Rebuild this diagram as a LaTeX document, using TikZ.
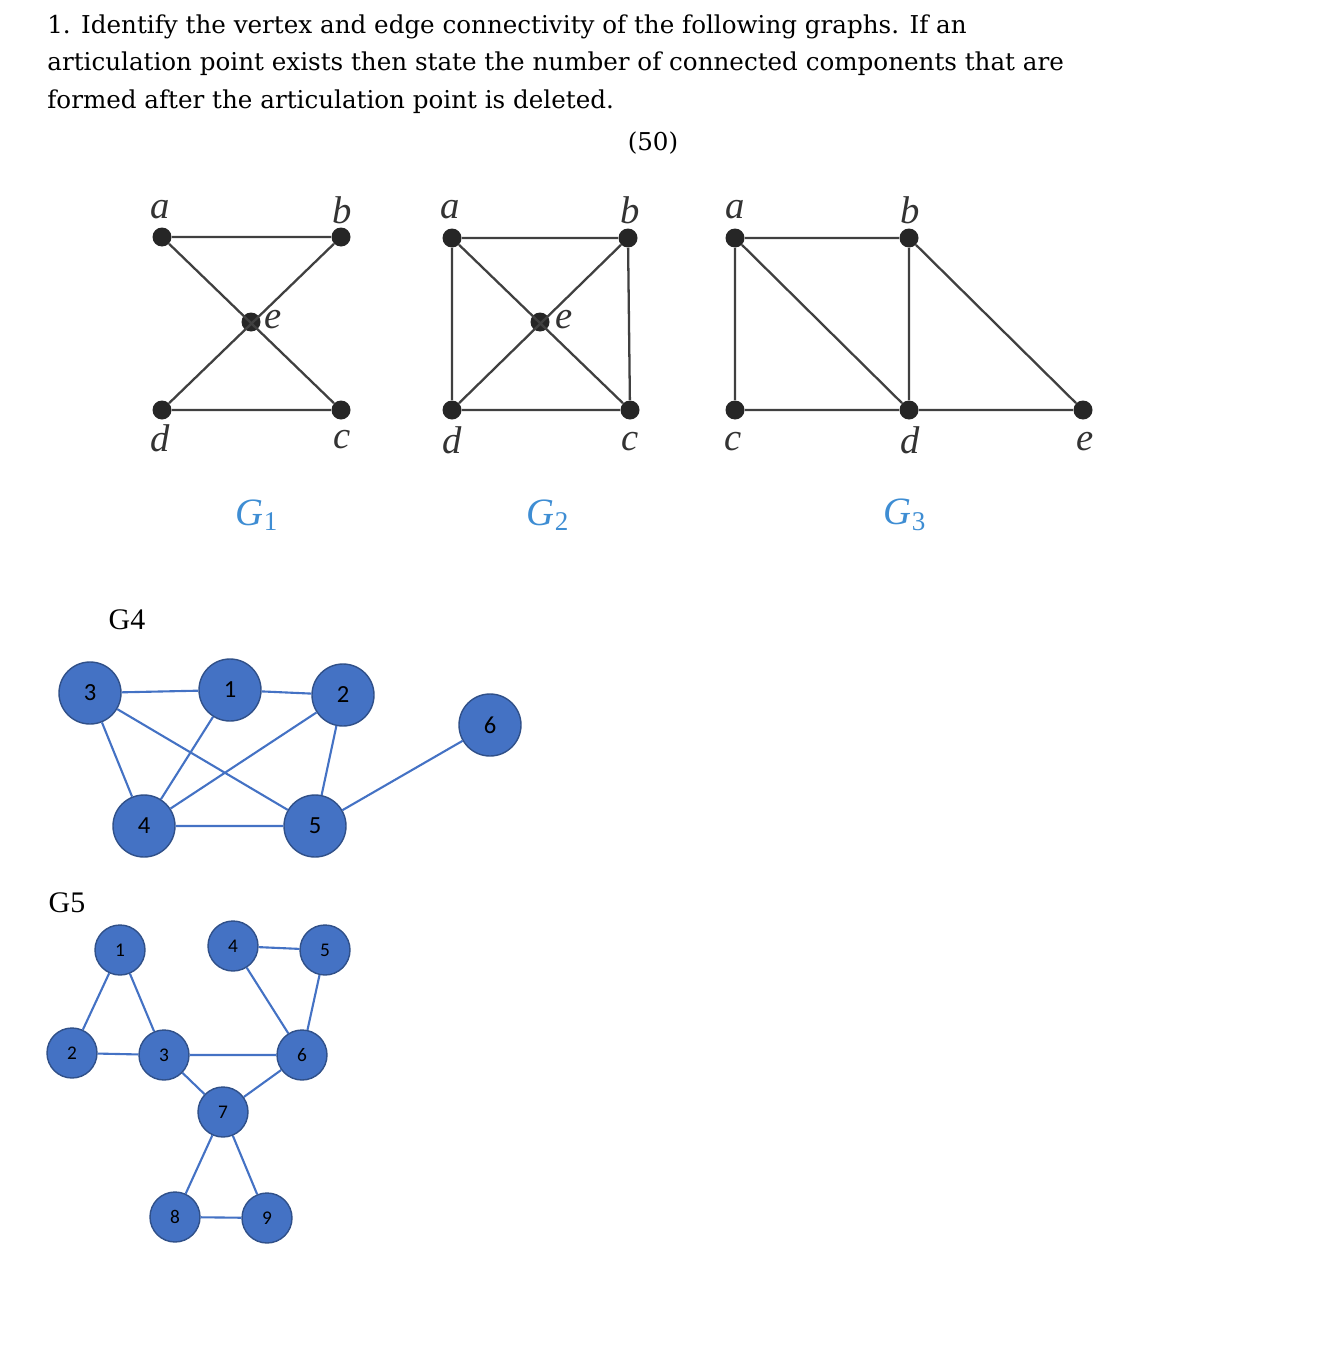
\documentclass[tikz,border=0pt]{standalone}
\usepackage{fontspec}
\setmainfont{DejaVu Serif}
\newfontfamily\libser{Liberation Serif}
\newfontfamily\carl{Carlito}
\begin{document}
\begin{tikzpicture}[x=0.02cm,y=-0.02cm,
 dot/.style={circle,fill=black!85,inner sep=0,minimum size=19*0.02cm},
 ge/.style={draw=black!75,line width=1.3pt},
 lab/.style={font=\libser\itshape\fontsize{22}{22}\selectfont,text=black!80},
 glab/.style={font=\libser\itshape\fontsize{22}{22}\selectfont,text=cyan!60!blue!80},
 bn/.style={circle,inner sep=0,line width=0.8pt},
 big/.style={bn,minimum size=62*0.02cm,font=\carl\fontsize{14}{14}\selectfont},
 sm/.style={bn,minimum size=50*0.02cm,font=\carl\fontsize{11}{11}\selectfont},
 be/.style={draw=bluee,line width=1.2pt}]
\definecolor{bluee}{HTML}{4472C4}
\tikzset{bn/.append style={fill=bluee,draw=bluee!70!black}}
\useasboundingbox (0,0) rectangle (1332,1345);
\node[anchor=north west,align=left,inner sep=0,font=\fontsize{14}{21.5}\selectfont] (hdr) at (47,14) {1. Identify the vertex and edge connectivity of the following graphs. If an\\articulation point exists then state the number of connected components that are\\formed after the articulation point is deleted.};
\node[font=\fontsize{14}{14}\selectfont] (pts) at (653,143) {(50)};
% G1
\node[dot] (a1) at (162,237) {}; \node[dot] (b1) at (341,237) {};
\node[dot] (e1) at (251,322) {}; \node[dot] (d1) at (162,410) {}; \node[dot] (c1) at (341,410) {};
\draw[ge] (a1)--(b1) (a1)--(c1) (b1)--(d1) (d1)--(c1);
\node[lab] (la1) at (160,210) {a}; \node[lab] (lb1) at (342,210) {b};
\node[lab] (le1) at (273,320) {e}; \node[lab] (ld1) at (160,438) {d}; \node[lab] (lc1) at (342,440) {c};
\node[glab] (g1) at (257,515) {G\textsubscript{\upshape 1}};
% G2
\node[dot] (a2) at (452,238) {}; \node[dot] (b2) at (628,238) {};
\node[dot] (e2) at (540,322) {}; \node[dot] (d2) at (452,410) {}; \node[dot] (c2) at (630,410) {};
\draw[ge] (a2)--(b2)--(c2)--(d2)--(a2) (a2)--(c2) (b2)--(d2);
\node[lab] (la2) at (450,210) {a}; \node[lab] (lb2) at (630,210) {b};
\node[lab] (le2) at (564,320) {e}; \node[lab] (ld2) at (452,440) {d}; \node[lab] (lc2) at (630,442) {c};
\node[glab] (g2) at (548,515) {G\textsubscript{\upshape 2}};
% G3
\node[dot] (a3) at (735,238) {}; \node[dot] (b3) at (909,238) {};
\node[dot] (c3) at (735,410) {}; \node[dot] (d3) at (909,410) {}; \node[dot] (e3) at (1083,410) {};
\draw[ge] (a3)--(b3) (a3)--(c3) (c3)--(d3) (a3)--(d3) (b3)--(d3) (b3)--(e3) (d3)--(e3);
\node[lab] (la3) at (735,210) {a}; \node[lab] (lb3) at (910,210) {b};
\node[lab] (lc3) at (733,442) {c}; \node[lab] (ld3) at (910,440) {d}; \node[lab] (le3) at (1085,442) {e};
\node[glab] (g3) at (905,515) {G\textsubscript{\upshape 3}};
% G4
\node[font=\libser\fontsize{17}{17}\selectfont] (g4) at (127,620) {G4};
\node[big] (n3) at (90,693) {3}; \node[big] (n1) at (230,690) {1};
\node[big] (n2) at (343,695) {2}; \node[big] (n6) at (490,725) {6};
\node[big] (n4) at (144,826) {4}; \node[big] (n5) at (315,826) {5};
\draw[be] (n3)--(n1) (n1)--(n2) (n3)--(n4) (n3)--(n5) (n1)--(n4) (n2)--(n4) (n2)--(n5) (n4)--(n5) (n5)--(n6);
% G5
\node[font=\libser\fontsize{17}{17}\selectfont] (g5) at (67,903) {G5};
\node[sm] (m1) at (120,950) {1}; \node[sm] (m4) at (233,946) {4}; \node[sm] (m5) at (325,950) {5};
\node[sm] (m2) at (72,1053) {2}; \node[sm] (m3) at (164,1055) {3}; \node[sm] (m6) at (302,1055) {6};
\node[sm] (m7) at (223,1112) {7}; \node[sm] (m8) at (175,1217) {8}; \node[sm] (m9) at (267,1218) {9};
\draw[be] (m1)--(m2) (m1)--(m3) (m2)--(m3) (m3)--(m6) (m4)--(m6) (m4)--(m5) (m5)--(m6) (m3)--(m7) (m6)--(m7) (m7)--(m8) (m7)--(m9) (m8)--(m9);
\end{tikzpicture}
\end{document}
